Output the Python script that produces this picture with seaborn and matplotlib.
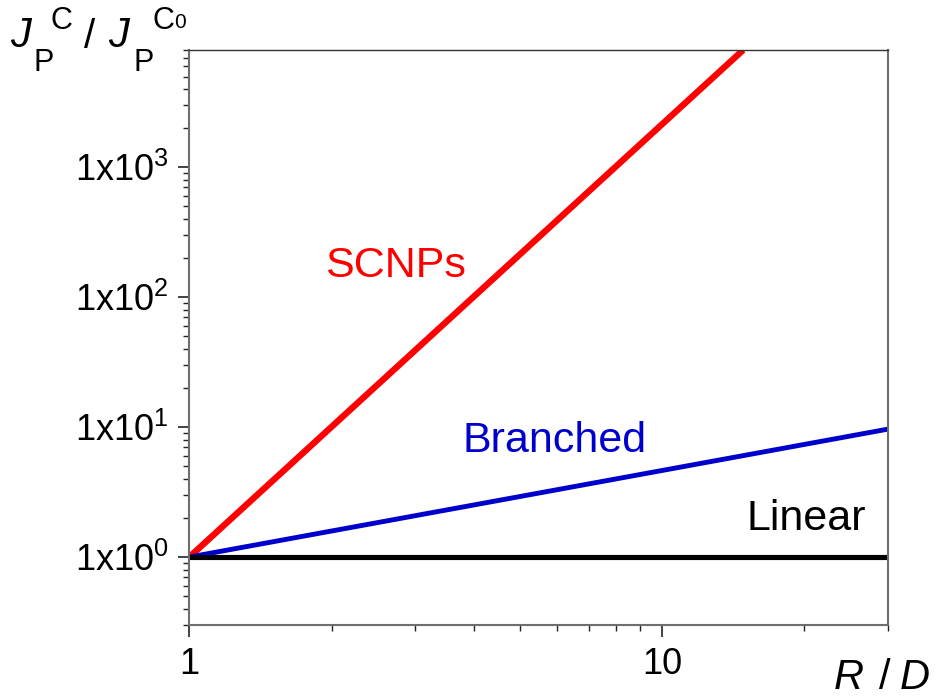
import matplotlib
matplotlib.use("Agg")
import matplotlib.pyplot as plt
import matplotlib.ticker as mticker
import numpy as np
import pandas as pd
import seaborn as sns

# Normalised permeation flux vs. size ratio for three polymer architectures
scnp_rd = [1.0, 14.84]
scnp_ratio = [1.0, 8000.0]
branched_rd = [1.0, 30.0]
branched_ratio = [1.0, 9.65]
linear_rd = [1.0, 30.0]
linear_ratio = [1.0, 1.0]

arch_names = ["SCNPs", "Branched", "Linear"]
arch_colors = ["#ff0000", "#0000cc", "#000000"]
y_tick_values = [1, 10, 100, 1000]
y_tick_labels = [r"$\mathregular{1x10^{0}}$", r"$\mathregular{1x10^{1}}$",
                 r"$\mathregular{1x10^{2}}$", r"$\mathregular{1x10^{3}}$"]
x_tick_values = [1, 10]
x_tick_labels = ["1", "10"]

df = pd.concat([
    pd.DataFrame({"rd": scnp_rd, "ratio": scnp_ratio, "arch": "SCNPs"}),
    pd.DataFrame({"rd": branched_rd, "ratio": branched_ratio, "arch": "Branched"}),
    pd.DataFrame({"rd": linear_rd, "ratio": linear_ratio, "arch": "Linear"}),
], ignore_index=True)

sns.set_style("ticks")
plt.rcParams["font.family"] = ["Liberation Sans", "DejaVu Sans"]
plt.rcParams["mathtext.fontset"] = "custom"
plt.rcParams["mathtext.rm"] = "Liberation Sans"
plt.rcParams["mathtext.it"] = "Liberation Sans:italic"
plt.rcParams["mathtext.bf"] = "Liberation Sans:bold"
plt.rcParams["text.color"] = "black"
plt.rcParams["xtick.labelcolor"] = "black"
plt.rcParams["ytick.labelcolor"] = "black"

W, H = 936, 697
fig = plt.figure(figsize=(W / 100, H / 100), dpi=100)
ax = fig.add_axes([189.3 / W, 1 - 625 / H, (887.7 - 189.3) / W, (625 - 50) / H])

widths = {"SCNPs": 4.6, "Branched": 3.5, "Linear": 3.7}
for name, col in zip(arch_names, arch_colors):
    sub = df[df["arch"] == name]
    sns.lineplot(data=sub, x="rd", y="ratio", color=col, lw=widths[name],
                 ax=ax, estimator=None, sort=False, solid_capstyle="butt")

ax.set_xscale("log")
ax.set_yscale("log")
ax.set_xlim(1, 30)
ax.set_ylim(0.3, 8000)

ax.xaxis.set_major_locator(mticker.FixedLocator(x_tick_values))
ax.xaxis.set_major_formatter(mticker.FixedFormatter(x_tick_labels))
ax.xaxis.set_minor_locator(mticker.LogLocator(base=10, subs=np.arange(2, 10), numticks=20))
ax.xaxis.set_minor_formatter(mticker.NullFormatter())
ax.yaxis.set_major_locator(mticker.FixedLocator(y_tick_values))
ax.yaxis.set_major_formatter(mticker.FixedFormatter(y_tick_labels))
ax.yaxis.set_minor_locator(mticker.LogLocator(base=10, subs=np.arange(2, 10), numticks=20))
ax.yaxis.set_minor_formatter(mticker.NullFormatter())

spine_col = "#6e6e6e"
for s in ax.spines.values():
    s.set_color(spine_col)
    s.set_linewidth(1.5)
ax.spines["top"].set_color("#333333")
ax.spines["top"].set_linewidth(1.0)

ax.tick_params(axis="x", which="major", direction="out", length=8.5, width=1.2,
               color="#222222", labelsize=26, pad=7, labelcolor="black")
ax.tick_params(axis="x", which="minor", direction="out", length=4.3, width=1.0,
               color="#222222")
ax.tick_params(axis="y", which="major", direction="out", length=8, width=1.2,
               color="#222222", labelsize=26, pad=7, labelcolor="black")
ax.tick_params(axis="y", which="minor", direction="out", length=4.3, width=1.0,
               color="#222222")
for lab in ax.get_yticklabels():
    lab.set_verticalalignment("center_baseline")

ax.set_xlabel("")
ax.set_ylabel("")
leg = ax.get_legend()
if leg is not None:
    leg.remove()

ax.text(1.94, 143.6, "SCNPs", color="#ff0000", fontsize=31, ha="left", va="baseline")
ax.text(3.79, 6.47, "Branched", color="#0000cc", fontsize=31, ha="left", va="baseline")
ax.text(15.08, 1.615, "Linear", color="#000000", fontsize=31, ha="left", va="baseline")


def ftext(px, py, s, size, style="normal"):
    """Place text at a pixel position (origin top-left), baseline aligned."""
    fig.text(px / W, 1 - py / H, s, fontsize=size, style=style,
             ha="left", va="baseline", color="black")


# y-axis title: J_P^C / J_P^C0
ftext(10, 47, "J", 30, "italic")
ftext(34, 71, "P", 22)
ftext(51, 29, "C", 22)
ftext(84, 48, "/", 29)
ftext(108, 47, "J", 30, "italic")
ftext(133, 71, "P", 22)
ftext(153, 29, "C", 22)
ftext(174, 28, "0", 15)

# x-axis title
ftext(834, 689, "R", 30, "italic")
ftext(879, 689, "/", 30)
ftext(900, 689, "D", 30, "italic")

fig.savefig("out.png", dpi=100)
